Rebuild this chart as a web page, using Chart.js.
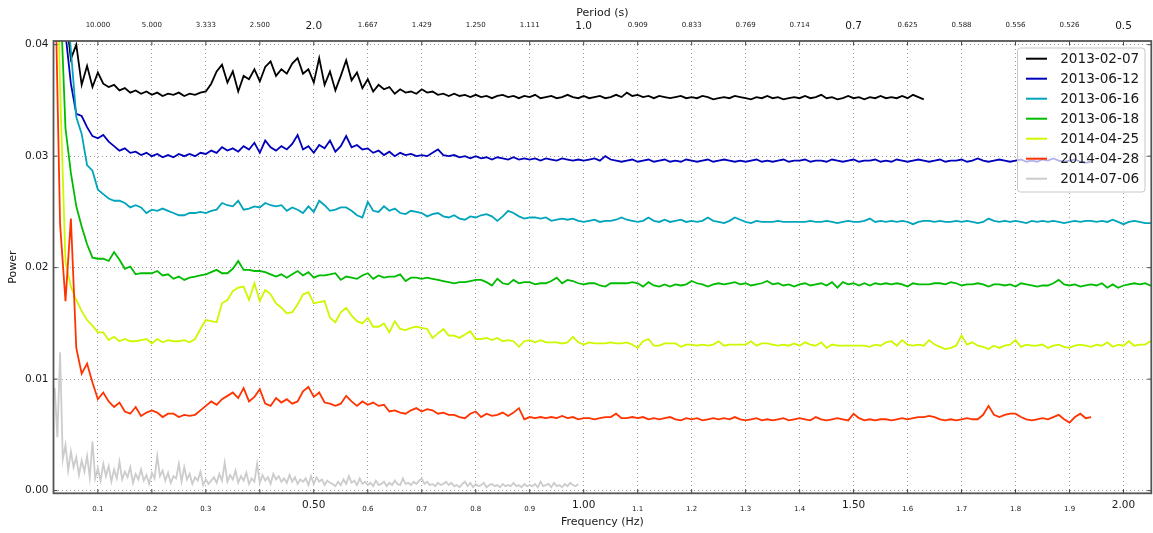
<!DOCTYPE html>
<html>
<head>
<meta charset="utf-8">
<script src="https://cdn.jsdelivr.net/npm/chart.js@4"></script>
<style>
  html, body { margin: 0; padding: 0; background: #fff; }
  canvas { display: block; }
</style>
</head>
<body>
<canvas id="spectra" width="1153" height="533"></canvas>
<script>
// Power spectra per recording day, sampled on a regular frequency grid (Hz)
const FREQ_START = 0.02;
const FREQ_STEP = 0.01;
const FREQ_STEP_FINE = 0.005;

const seriesLabels = ['2013-02-07', '2013-06-12', '2013-06-16', '2013-06-18', '2014-04-25', '2014-04-28', '2014-07-06'];
const seriesColors = ['#000000', '#0000bb', '#00a4bb', '#00bb00', '#ccf900', '#ff3300', '#cccccc'];

const power20130207 = [
  0.060, 0.050, 0.043, 0.0387, 0.0400, 0.0364, 0.0381, 0.0362,
  0.0375, 0.0365, 0.0362, 0.0364, 0.0359, 0.0361, 0.0357, 0.0359, 0.0356, 0.0358,
  0.0355, 0.0357, 0.0354, 0.0356, 0.0355, 0.0357, 0.0354, 0.0356, 0.0355, 0.0357,
  0.0358, 0.0365, 0.0376, 0.0382, 0.0366, 0.0376, 0.0358, 0.0372, 0.0369, 0.0378,
  0.0367, 0.0380, 0.0385, 0.0372, 0.0378, 0.0374, 0.0383, 0.0388, 0.0374, 0.0378,
  0.0366, 0.0388, 0.0364, 0.0376, 0.0359, 0.0372, 0.0386, 0.0368, 0.0375, 0.0361,
  0.0369, 0.0358, 0.0364, 0.0360, 0.0362, 0.0356, 0.0360, 0.0357, 0.0358, 0.0356,
  0.0360, 0.0357, 0.0358, 0.0355, 0.0356, 0.0354, 0.0356, 0.0354, 0.0355, 0.0353,
  0.0355, 0.0353, 0.0354, 0.0352, 0.0354, 0.0355, 0.0353, 0.0354, 0.0352, 0.0354,
  0.0353, 0.0355, 0.0352, 0.0353, 0.0354, 0.0352, 0.0353, 0.0355, 0.0353, 0.0352,
  0.0354, 0.0352, 0.0353, 0.0354, 0.0352, 0.0353, 0.0355, 0.0353, 0.0357, 0.0354,
  0.0355, 0.0353, 0.0354, 0.0352, 0.0354, 0.0353, 0.0352, 0.0353, 0.0354, 0.0352,
  0.0353, 0.0352, 0.0354, 0.0353, 0.0351, 0.0352, 0.0353, 0.0352, 0.0354, 0.0353,
  0.0352, 0.0351, 0.0353, 0.0352, 0.0354, 0.0352, 0.0353, 0.0351, 0.0352, 0.0353,
  0.0352, 0.0354, 0.0352, 0.0353, 0.0355, 0.0352, 0.0353, 0.0351, 0.0352, 0.0354,
  0.0352, 0.0353, 0.0351, 0.0353, 0.0352, 0.0354, 0.0352, 0.0353, 0.0352, 0.0354,
  0.0352, 0.0355, 0.0353, 0.0351
];

const power20130612 = [
  0.060, 0.050, 0.041, 0.0365, 0.0338, 0.0336, 0.0326, 0.0318,
  0.0316, 0.0319, 0.0313, 0.0309, 0.0305, 0.0307, 0.0303, 0.0304, 0.0301, 0.0303,
  0.0300, 0.0302, 0.0299, 0.0301, 0.0299, 0.0302, 0.0300, 0.0302, 0.0300, 0.0303,
  0.0302, 0.0305, 0.0303, 0.0308, 0.0305, 0.0307, 0.0304, 0.0309, 0.0306, 0.0312,
  0.0303, 0.0314, 0.0308, 0.0305, 0.0309, 0.0306, 0.0311, 0.0319, 0.0306, 0.0309,
  0.0303, 0.0310, 0.0307, 0.0314, 0.0304, 0.0309, 0.0318, 0.0308, 0.0310, 0.0306,
  0.0307, 0.0303, 0.0305, 0.0301, 0.0304, 0.0300, 0.0303, 0.0301, 0.0302, 0.0300,
  0.0301, 0.0300, 0.0303, 0.0306, 0.0301, 0.0300, 0.0301, 0.0299, 0.0300, 0.0298,
  0.0300, 0.0298, 0.0299, 0.0297, 0.0299, 0.0298, 0.0297, 0.0299, 0.0297, 0.0298,
  0.0297, 0.0298, 0.0296, 0.0298, 0.0297, 0.0296, 0.0298, 0.0297, 0.0296, 0.0297,
  0.0296, 0.0297, 0.0298, 0.0296, 0.0300, 0.0297, 0.0296, 0.0295, 0.0296, 0.0297,
  0.0295, 0.0296, 0.0297, 0.0295, 0.0296, 0.0297, 0.0295, 0.0296, 0.0295, 0.0297,
  0.0296, 0.0295, 0.0296, 0.0297, 0.0295, 0.0296, 0.0297, 0.0296, 0.0295, 0.0296,
  0.0295, 0.0296, 0.0297, 0.0295, 0.0296, 0.0295, 0.0296, 0.0297, 0.0295, 0.0296,
  0.0296, 0.0297, 0.0295, 0.0296, 0.0296, 0.0295, 0.0297, 0.0296, 0.0295, 0.0296,
  0.0297, 0.0295, 0.0296, 0.0296, 0.0297, 0.0295, 0.0296, 0.0295, 0.0297, 0.0296,
  0.0295, 0.0296, 0.0297, 0.0296, 0.0295, 0.0296, 0.0297, 0.0295, 0.0296, 0.0296,
  0.0297, 0.0295, 0.0296, 0.0298, 0.0296, 0.0295, 0.0296, 0.0297, 0.0296, 0.0295,
  0.0296, 0.0297, 0.0295, 0.0296, 0.0295, 0.0297, 0.0296, 0.0298, 0.0296, 0.0295,
  0.0296, 0.0297, 0.0295, 0.0294, 0.0295
];

const power20130616 = [
  0.080, 0.060, 0.045, 0.0395, 0.0335, 0.0320, 0.0292, 0.0287,
  0.0270, 0.0266, 0.0262, 0.0260, 0.0260, 0.0258, 0.0254, 0.0256, 0.0254, 0.0249,
  0.0252, 0.0251, 0.0253, 0.0251, 0.0249, 0.0247, 0.0247, 0.0249, 0.0249, 0.0250,
  0.0249, 0.0251, 0.0252, 0.0258, 0.0256, 0.0255, 0.0260, 0.0252, 0.0253, 0.0255,
  0.0254, 0.0258, 0.0256, 0.0255, 0.0256, 0.0251, 0.0254, 0.0252, 0.0249, 0.0255,
  0.0250, 0.0260, 0.0256, 0.0251, 0.0252, 0.0254, 0.0254, 0.0251, 0.0247, 0.0245,
  0.0259, 0.0251, 0.0250, 0.0255, 0.0251, 0.0253, 0.0249, 0.0248, 0.0251, 0.0250,
  0.0249, 0.0246, 0.0248, 0.0249, 0.0246, 0.0245, 0.0247, 0.0244, 0.0243, 0.0246,
  0.0245, 0.0247, 0.0248, 0.0246, 0.0242, 0.0246, 0.0251, 0.0249, 0.0246, 0.0244,
  0.0245, 0.0245, 0.0244, 0.0245, 0.0242, 0.0243, 0.0244, 0.0243, 0.0244, 0.0242,
  0.0241, 0.0242, 0.0243, 0.0241, 0.0242, 0.0242, 0.0243, 0.0245, 0.0243, 0.0242,
  0.0241, 0.0242, 0.0245, 0.0242, 0.0241, 0.0243, 0.0241, 0.0242, 0.0243, 0.0241,
  0.0242, 0.0241, 0.0242, 0.0245, 0.0242, 0.0241, 0.0240, 0.0242, 0.0245, 0.0243,
  0.0241, 0.0240, 0.0242, 0.0241, 0.0241, 0.0241, 0.0242, 0.0241, 0.0241, 0.0241,
  0.0241, 0.0241, 0.0242, 0.0241, 0.0241, 0.0242, 0.0241, 0.0240, 0.0241, 0.0242,
  0.0241, 0.0241, 0.0242, 0.0244, 0.0241, 0.0242, 0.0241, 0.0242, 0.0241, 0.0242,
  0.0241, 0.0239, 0.0241, 0.0242, 0.0242, 0.0241, 0.0242, 0.0241, 0.0241, 0.0242,
  0.0241, 0.0242, 0.0241, 0.0240, 0.0241, 0.0244, 0.0242, 0.0241, 0.0242, 0.0241,
  0.0242, 0.0241, 0.0240, 0.0242, 0.0241, 0.0242, 0.0241, 0.0242, 0.0241, 0.0240,
  0.0241, 0.0242, 0.0241, 0.0242, 0.0242, 0.0241, 0.0242, 0.0241, 0.0243, 0.0241,
  0.0239, 0.0241, 0.0242, 0.0241, 0.0240, 0.0240, 0.0241
];

const power20130618 = [
  0.090, 0.045, 0.0325, 0.0285, 0.0255, 0.0237, 0.0221, 0.0209,
  0.0208, 0.0208, 0.0206, 0.0214, 0.0207, 0.0199, 0.0201, 0.0194, 0.0195, 0.0195,
  0.0195, 0.0197, 0.0193, 0.0194, 0.0190, 0.0192, 0.0189, 0.0191, 0.0192, 0.0193,
  0.0194, 0.0196, 0.0198, 0.0195, 0.0195, 0.0199, 0.0206, 0.0198, 0.0198, 0.0197,
  0.0197, 0.0196, 0.0194, 0.0192, 0.0194, 0.0191, 0.0194, 0.0197, 0.0193, 0.0196,
  0.0191, 0.0193, 0.0193, 0.0194, 0.0195, 0.0189, 0.0192, 0.0191, 0.0190, 0.0193,
  0.0195, 0.0190, 0.0193, 0.0191, 0.0192, 0.0192, 0.0194, 0.0188, 0.0191, 0.0191,
  0.0190, 0.0191, 0.0190, 0.0189, 0.0188, 0.0187, 0.0186, 0.0187, 0.0187, 0.0188,
  0.0189, 0.0189, 0.0187, 0.0184, 0.0190, 0.0186, 0.0185, 0.0189, 0.0186, 0.0187,
  0.0187, 0.0185, 0.0186, 0.0186, 0.0188, 0.0191, 0.0186, 0.0189, 0.0188, 0.0186,
  0.0185, 0.0186, 0.0186, 0.0184, 0.0183, 0.0186, 0.0186, 0.0186, 0.0186, 0.0187,
  0.0186, 0.0183, 0.0187, 0.0184, 0.0183, 0.0185, 0.0183, 0.0185, 0.0184, 0.0185,
  0.0188, 0.0186, 0.0185, 0.0183, 0.0185, 0.0186, 0.0185, 0.0186, 0.0187, 0.0185,
  0.0186, 0.0184, 0.0185, 0.0186, 0.0188, 0.0185, 0.0186, 0.0184, 0.0185, 0.0183,
  0.0185, 0.0186, 0.0184, 0.0185, 0.0186, 0.0184, 0.0187, 0.0182, 0.0187, 0.0185,
  0.0186, 0.0184, 0.0186, 0.0184, 0.0186, 0.0185, 0.0186, 0.0185, 0.0186, 0.0185,
  0.0183, 0.0186, 0.0185, 0.0185, 0.0185, 0.0186, 0.0186, 0.0185, 0.0187, 0.0186,
  0.0184, 0.0185, 0.0185, 0.0186, 0.0185, 0.0183, 0.0185, 0.0185, 0.0184, 0.0185,
  0.0183, 0.0186, 0.0185, 0.0184, 0.0183, 0.0184, 0.0184, 0.0186, 0.0189, 0.0185,
  0.0184, 0.0185, 0.0183, 0.0184, 0.0185, 0.0184, 0.0186, 0.0182, 0.0185, 0.0182,
  0.0184, 0.0185, 0.0186, 0.0185, 0.0186, 0.0184, 0.0184
];

const power20140425 = [
  0.060, 0.036, 0.0205, 0.0183, 0.0171, 0.0161, 0.0153, 0.0148,
  0.0142, 0.0142, 0.0135, 0.0138, 0.0134, 0.0136, 0.0134, 0.0134, 0.0135, 0.0136,
  0.0132, 0.0136, 0.0133, 0.0135, 0.0134, 0.0134, 0.0135, 0.0133, 0.0136, 0.0145,
  0.0153, 0.0152, 0.0151, 0.0168, 0.0171, 0.0179, 0.0182, 0.0183, 0.0171, 0.0186,
  0.0170, 0.0180, 0.0176, 0.0168, 0.0164, 0.0159, 0.0160, 0.0167, 0.0176, 0.0178,
  0.0168, 0.0169, 0.0170, 0.0155, 0.0151, 0.0160, 0.0164, 0.0157, 0.0152, 0.0150,
  0.0155, 0.0147, 0.0147, 0.0150, 0.0142, 0.0152, 0.0145, 0.0144, 0.0146, 0.0147,
  0.0146, 0.0145, 0.0137, 0.0141, 0.0145, 0.0139, 0.0139, 0.0137, 0.0140, 0.0143,
  0.0136, 0.0136, 0.0137, 0.0135, 0.0137, 0.0134, 0.0135, 0.0134, 0.0129, 0.0134,
  0.0135, 0.0133, 0.0135, 0.0133, 0.0133, 0.0133, 0.0132, 0.0133, 0.0138, 0.0133,
  0.0131, 0.0133, 0.0132, 0.0132, 0.0132, 0.0133, 0.0132, 0.0132, 0.0133, 0.0131,
  0.0128, 0.0134, 0.0136, 0.0130, 0.0130, 0.0132, 0.0132, 0.0132, 0.0129, 0.0131,
  0.0131, 0.0130, 0.0131, 0.0130, 0.0131, 0.0134, 0.0130, 0.0131, 0.0131, 0.0131,
  0.0131, 0.0134, 0.0130, 0.0132, 0.0132, 0.0131, 0.0130, 0.0131, 0.0130, 0.0132,
  0.0130, 0.0133, 0.0131, 0.0130, 0.0133, 0.0128, 0.0131, 0.0130, 0.0130, 0.0130,
  0.0130, 0.0130, 0.0130, 0.0129, 0.0131, 0.0130, 0.0133, 0.0134, 0.0130, 0.0135,
  0.0131, 0.0130, 0.0131, 0.0130, 0.0135, 0.0131, 0.0129, 0.0127, 0.0128, 0.0130,
  0.0139, 0.0131, 0.0133, 0.0130, 0.0129, 0.0127, 0.0130, 0.0128, 0.0130, 0.0131,
  0.0135, 0.0129, 0.0131, 0.0130, 0.0130, 0.0131, 0.0128, 0.0130, 0.0131, 0.0129,
  0.0128, 0.0130, 0.0131, 0.0130, 0.0129, 0.0131, 0.0130, 0.0133, 0.0129, 0.0131,
  0.0130, 0.0134, 0.0130, 0.0131, 0.0131, 0.0134, 0.0133
];

const power20140428 = [
  0.048, 0.0239, 0.0170, 0.0244, 0.0128, 0.0105, 0.0114, 0.0097,
  0.0082, 0.0088, 0.0080, 0.0075, 0.0079, 0.0071, 0.0069, 0.0075, 0.0067, 0.0070,
  0.0072, 0.0070, 0.0066, 0.0069, 0.0069, 0.0066, 0.0068, 0.0067, 0.0068, 0.0072,
  0.0076, 0.0080, 0.0077, 0.0082, 0.0085, 0.0088, 0.0083, 0.0092, 0.0080, 0.0084,
  0.0091, 0.0078, 0.0076, 0.0083, 0.0079, 0.0082, 0.0078, 0.0080, 0.0089, 0.0093,
  0.0084, 0.0088, 0.0079, 0.0078, 0.0076, 0.0078, 0.0085, 0.0080, 0.0076, 0.0080,
  0.0077, 0.0079, 0.0076, 0.0077, 0.0071, 0.0072, 0.0070, 0.0069, 0.0072, 0.0074,
  0.0071, 0.0073, 0.0072, 0.0069, 0.0070, 0.0068, 0.0068, 0.0066, 0.0065, 0.0069,
  0.0071, 0.0066, 0.0069, 0.0067, 0.0068, 0.0070, 0.0067, 0.0070, 0.0074, 0.0064,
  0.0066, 0.0065, 0.0066, 0.0065, 0.0066, 0.0065, 0.0067, 0.0065, 0.0066, 0.0064,
  0.0065, 0.0065, 0.0064, 0.0065, 0.0066, 0.0066, 0.0069, 0.0065, 0.0065, 0.0066,
  0.0065, 0.0066, 0.0064, 0.0065, 0.0064, 0.0065, 0.0066, 0.0064, 0.0063, 0.0065,
  0.0064, 0.0065, 0.0063, 0.0064, 0.0065, 0.0064, 0.0065, 0.0064, 0.0066, 0.0064,
  0.0063, 0.0064, 0.0065, 0.0063, 0.0064, 0.0063, 0.0064, 0.0065, 0.0063, 0.0064,
  0.0065, 0.0064, 0.0063, 0.0066, 0.0064, 0.0063, 0.0064, 0.0065, 0.0064, 0.0063,
  0.0069, 0.0065, 0.0063, 0.0064, 0.0063, 0.0064, 0.0064, 0.0063, 0.0064, 0.0065,
  0.0064, 0.0065, 0.0066, 0.0066, 0.0067, 0.0066, 0.0064, 0.0063, 0.0064, 0.0063,
  0.0064, 0.0065, 0.0064, 0.0064, 0.0068, 0.0076, 0.0068, 0.0066, 0.0068, 0.0069,
  0.0069, 0.0066, 0.0064, 0.0063, 0.0064, 0.0065, 0.0064, 0.0066, 0.0068, 0.0064,
  0.0061, 0.0066, 0.0069, 0.0065, 0.0066
];

// sampled twice as finely
const power20140706 = [
  0.0092, 0.0048, 0.0124, 0.0028, 0.0041, 0.0018, 0.0035, 0.0021, 0.0030, 0.0014, 0.0027, 0.0017, 0.0031, 0.0012, 0.0044, 0.0011,
  0.0020, 0.0009, 0.0024, 0.0013, 0.0022, 0.0008, 0.0019, 0.0011, 0.0026, 0.0010, 0.0017, 0.0012, 0.0021, 0.0007, 0.0015, 0.0010, 0.0019, 0.0009, 0.0014, 0.0006,
  0.0016, 0.0011, 0.0031, 0.0013, 0.0018, 0.0009, 0.0016, 0.0007, 0.0013, 0.0011, 0.0024, 0.0008, 0.0021, 0.0010, 0.0015, 0.0006, 0.0012, 0.0009, 0.0017, 0.0005,
  0.0010, 0.0006, 0.0009, 0.0012, 0.0007, 0.0015, 0.0009, 0.0025, 0.0008, 0.0014, 0.0010, 0.0018, 0.0007, 0.0013, 0.0009, 0.0016, 0.0006, 0.0011, 0.0008, 0.0024,
  0.0007, 0.0014, 0.0009, 0.0012, 0.0006, 0.0015, 0.0010, 0.0013, 0.0008, 0.0011, 0.0007, 0.0014, 0.0008, 0.0012, 0.0006, 0.0010, 0.0008, 0.0011, 0.0005, 0.0013,
  0.0006, 0.0012, 0.0008, 0.0010, 0.0005, 0.0009, 0.0007, 0.0006, 0.0004, 0.0008, 0.0005, 0.0010, 0.0006, 0.0013, 0.0007, 0.0009, 0.0005, 0.0011, 0.0006, 0.0008,
  0.0005, 0.0007, 0.0004, 0.0009, 0.0005, 0.0006, 0.0008, 0.0004, 0.0007, 0.0005, 0.0009, 0.0006, 0.0005, 0.0011, 0.0006, 0.0007, 0.0005, 0.0008, 0.0006, 0.0009,
  0.0011, 0.0006, 0.0008, 0.0005, 0.0006, 0.0004, 0.0007, 0.0005, 0.0006, 0.0008, 0.0005, 0.0007, 0.0004, 0.0005, 0.0003, 0.0006, 0.0008, 0.0004, 0.0007, 0.0003,
  0.0006, 0.0004, 0.0005, 0.0007, 0.0003, 0.0005, 0.0006, 0.0004, 0.0005, 0.0003, 0.0006, 0.0004, 0.0005, 0.0004, 0.0007, 0.0004, 0.0005, 0.0003, 0.0006, 0.0004,
  0.0005, 0.0004, 0.0006, 0.0003, 0.0008, 0.0004, 0.0005, 0.0006, 0.0003, 0.0007, 0.0004, 0.0005, 0.0003, 0.0006, 0.0004, 0.0007, 0.0005, 0.0004, 0.0006
];

const seriesValues = [power20130207, power20130612, power20130616, power20130618, power20140425, power20140428, power20140706];
const seriesSteps = [FREQ_STEP, FREQ_STEP, FREQ_STEP, FREQ_STEP, FREQ_STEP, FREQ_STEP, FREQ_STEP_FINE];

// axis ticks
const freqTicks = [0.1, 0.2, 0.3, 0.4, 0.5, 0.6, 0.7, 0.8, 0.9, 1.0, 1.1, 1.2, 1.3, 1.4, 1.5, 1.6, 1.7, 1.8, 1.9, 2.0];
const freqTickLabels = ['0.1', '0.2', '0.3', '0.4', '0.50', '0.6', '0.7', '0.8', '0.9', '1.00', '1.1', '1.2', '1.3', '1.4', '1.50', '1.6', '1.7', '1.8', '1.9', '2.00'];
const periodTickLabels = ['10.000', '5.000', '3.333', '2.500', '2.0', '1.667', '1.429', '1.250', '1.111', '1.0', '0.909', '0.833', '0.769', '0.714', '0.7', '0.625', '0.588', '0.556', '0.526', '0.5'];
const powerTicks = [0, 0.01, 0.02, 0.03, 0.04];
const powerTickLabels = ['0.00', '0.01', '0.02', '0.03', '0.04'];

const FONT = 'DejaVu Sans';
const TEXT = '#1a1a1a';
const GRID = 'rgba(0,0,0,0.38)';
const isMajor = i => (i + 1) % 5 === 0;

const datasets = seriesValues.map((vals, i) => ({
  label: seriesLabels[i],
  data: vals.map((v, k) => ({ x: FREQ_START + k * seriesSteps[i], y: v })),
  borderColor: seriesColors[i],
  borderWidth: 1.8,
  pointRadius: 0,
  tension: 0,
  fill: false,
  clip: 0,
  order: seriesValues.length - 1 - i   // later series drawn on top
}));

const setFreqTicks = scale => { scale.ticks = freqTicks.map(v => ({ value: v })); };

const frame = {
  id: 'frame',
  afterDatasetsDraw(chart) {
    const { ctx, chartArea: a, scales } = chart;
    ctx.save();
    ctx.strokeStyle = '#444';
    ctx.lineWidth = 1;
    ctx.beginPath();
    freqTicks.forEach(f => {
      const x = scales.x.getPixelForValue(f);
      ctx.moveTo(x, a.top); ctx.lineTo(x, a.top + 4);
      ctx.moveTo(x, a.bottom); ctx.lineTo(x, a.bottom - 4);
    });
    powerTicks.forEach(p => {
      const y = scales.y.getPixelForValue(p);
      ctx.moveTo(a.left, y); ctx.lineTo(a.left + 4, y);
      ctx.moveTo(a.right, y); ctx.lineTo(a.right - 4, y);
    });
    ctx.stroke();
    ctx.strokeStyle = '#555';
    ctx.lineWidth = 1.8;
    ctx.strokeRect(a.left, a.top, a.right - a.left, a.bottom - a.top);
    ctx.restore();
  }
};

const boxLegend = {
  id: 'boxLegend',
  afterDraw(chart) {
    const { ctx, chartArea: a } = chart;
    const w = 127.5, h = 144;
    const x0 = a.right - 6.3 - w, y0 = a.top + 7;
    ctx.save();
    ctx.beginPath();
    ctx.roundRect(x0, y0, w, h, 3);
    ctx.fillStyle = 'rgba(255,255,255,0.7)';
    ctx.fill();
    ctx.strokeStyle = '#c8c8c8';
    ctx.lineWidth = 1;
    ctx.stroke();
    ctx.font = '13.6px "' + FONT + '"';
    ctx.textBaseline = 'middle';
    ctx.fillStyle = TEXT;
    seriesLabels.forEach((lab, i) => {
      const y = y0 + 10.7 + i * 20;
      ctx.beginPath();
      ctx.strokeStyle = seriesColors[i];
      ctx.lineWidth = 2;
      ctx.moveTo(x0 + 8.5, y);
      ctx.lineTo(x0 + 29.5, y);
      ctx.stroke();
      ctx.fillText(lab, x0 + 42.7, y + 0.5);
    });
    ctx.restore();
  }
};

new Chart(document.getElementById('spectra'), {
  type: 'line',
  data: { datasets },
  options: {
    responsive: false,
    animation: false,
    layout: { padding: { left: 0, right: 1.7, top: 0, bottom: 0 } },
    plugins: { legend: { display: false }, tooltip: { enabled: false } },
    scales: {
      x: {
        type: 'linear',
        position: 'bottom',
        min: 0.0178,
        max: 2.0515,
        bounds: 'data',
        afterBuildTicks: setFreqTicks,
        afterFit: s => { s.height = 39.7; },
        grid: { color: GRID, lineWidth: 1, drawTicks: false },
        border: { display: false, dash: [1, 3] },
        ticks: {
          autoSkip: false,
          maxRotation: 0,
          padding: 4,
          color: TEXT,
          callback: (v, i) => freqTickLabels[i],
          font: ctx => isMajor(ctx.index)
            ? { family: FONT, size: 10.5, lineHeight: '16.8px' }
            : { family: FONT, size: 7, lineHeight: '24px' }
        },
        title: {
          display: true,
          text: 'Frequency (Hz)',
          color: TEXT,
          font: { family: FONT, size: 11 },
          padding: { top: 0, bottom: 4.4 }
        }
      },
      x2: {
        type: 'linear',
        position: 'top',
        min: 0.0178,
        max: 2.0515,
        bounds: 'data',
        afterBuildTicks: setFreqTicks,
        afterFit: s => { s.height = 41; },
        grid: { display: false, drawTicks: false },
        border: { display: false },
        ticks: {
          autoSkip: false,
          maxRotation: 0,
          padding: 8,
          color: TEXT,
          callback: (v, i) => periodTickLabels[i],
          font: ctx => isMajor(ctx.index)
            ? { family: FONT, size: 10.5, lineHeight: '13.6px' }
            : { family: FONT, size: 7, lineHeight: '15.4px' }
        },
        title: {
          display: true,
          text: 'Period (s)',
          color: TEXT,
          font: { family: FONT, size: 11 },
          padding: { top: 6.7, bottom: 0 }
        }
      },
      y: {
        type: 'linear',
        min: -0.00024,
        max: 0.04033,
        bounds: 'data',
        afterBuildTicks: s => { s.ticks = powerTicks.map(v => ({ value: v })); },
        afterFit: s => { s.width = 53.5; },
        grid: { color: GRID, lineWidth: 1, drawTicks: false },
        border: { display: false, dash: [1, 3] },
        ticks: {
          padding: 5,
          color: TEXT,
          font: { family: FONT, size: 10.5 },
          callback: (v, i) => powerTickLabels[i]
        },
        title: {
          display: true,
          text: 'Power',
          color: TEXT,
          font: { family: FONT, size: 11 },
          padding: { top: 6.7, bottom: 0 }
        }
      }
    }
  },
  plugins: [frame, boxLegend]
});
</script>
</body>
</html>
